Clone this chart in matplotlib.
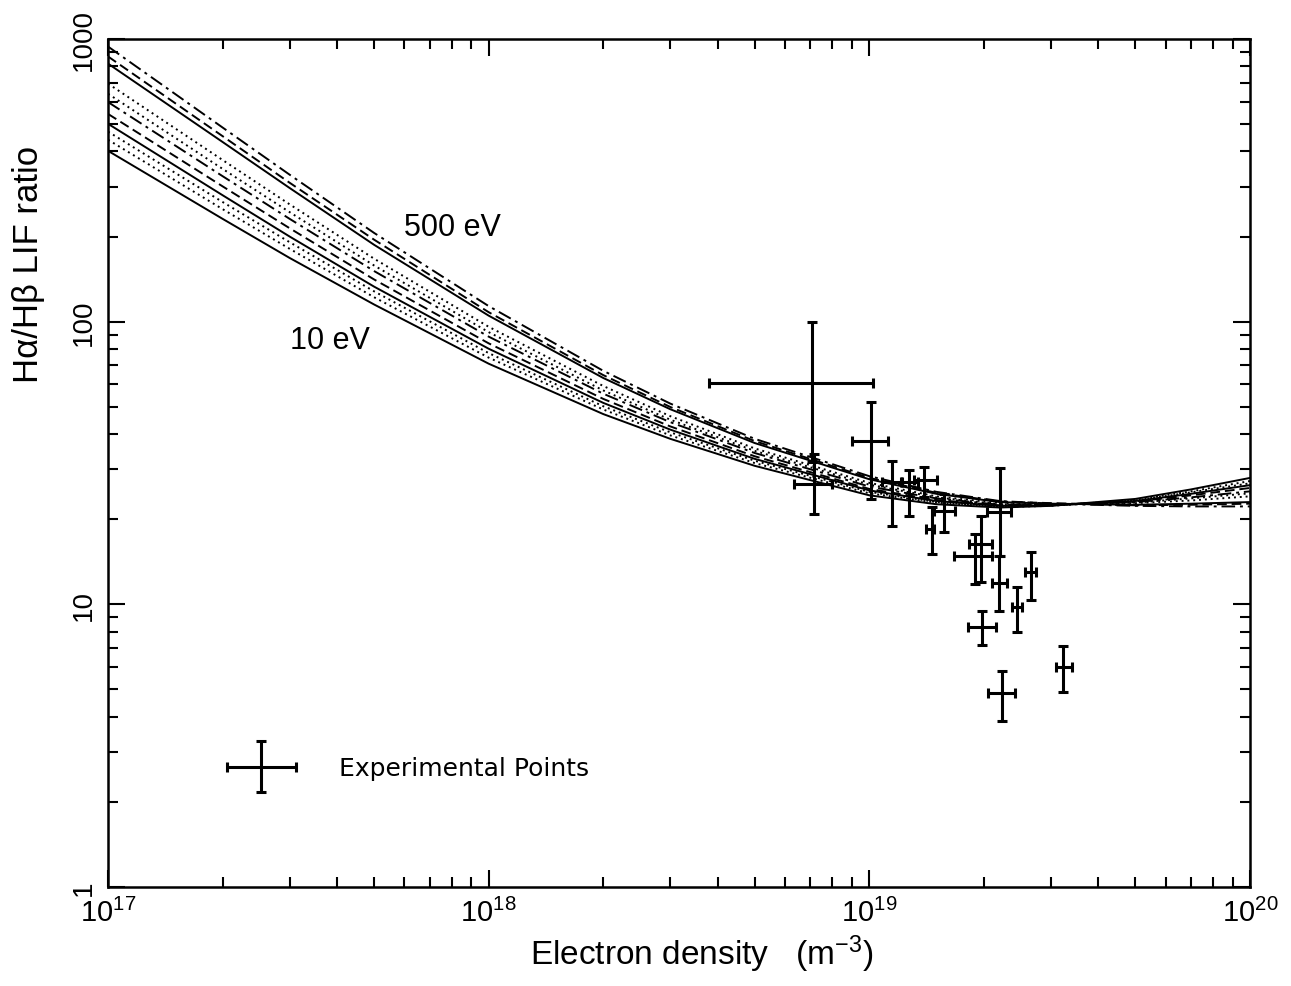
import matplotlib
matplotlib.use("Agg")
import matplotlib.pyplot as plt
from matplotlib.container import ErrorbarContainer
from matplotlib.legend_handler import HandlerErrorbar

# model curves, Halpha/Hbeta LIF ratio vs electron density
density = [1e17, 2e17, 3e17, 5e17, 1e18, 2e18, 3e18, 5e18, 1e19, 1.5e19, 2.2e19, 3e19, 5e19, 7e19, 1e20]

r500 = [940, 486, 331, 206, 113.5, 67.0, 51.3, 38.5, 28.4, 25.0, 23.2, 22.7, 22.3, 22.2, 22.2]
r400 = [867, 453, 310, 195, 108, 64.7, 49.9, 37.8, 28.0, 24.8, 23.1, 22.8, 22.4, 22.5, 22.7]
r300 = [818, 432, 297, 187, 105, 63.2, 49.0, 37.2, 27.7, 24.6, 23.0, 22.7, 22.5, 22.7, 23.0]
r200 = [695, 373, 260, 167, 95.9, 59.2, 46.3, 35.6, 26.9, 24.1, 22.8, 22.6, 22.8, 23.3, 24.1]
r150 = [640, 347, 244, 158, 91.8, 57.1, 45.0, 34.9, 26.5, 23.9, 22.6, 22.5, 22.9, 23.7, 24.7]
r100 = [598, 327, 231, 151, 88.5, 55.6, 44.1, 34.3, 26.1, 23.7, 22.5, 22.5, 23.0, 23.9, 25.1]
r70 = [543, 301, 214, 141, 83.8, 53.3, 42.6, 33.4, 25.6, 23.4, 22.4, 22.5, 23.1, 24.3, 25.8]
r50 = [501, 280, 200, 133, 80.2, 51.6, 41.5, 32.7, 25.3, 23.2, 22.3, 22.4, 23.2, 24.6, 26.4]
r30 = [470, 265, 191, 128, 77.4, 50.2, 40.6, 32.2, 25.0, 23.0, 22.2, 22.4, 23.3, 24.9, 26.8]
r20 = [440, 250, 181, 122, 74.6, 48.9, 39.6, 31.6, 24.7, 22.9, 22.1, 22.3, 23.4, 25.1, 27.3]
r10 = [402, 231, 168, 115, 71.0, 47.1, 38.5, 30.9, 24.3, 22.6, 22.0, 22.3, 23.6, 25.5, 28.0]

# experimental points
exp_n = [7.08e18, 7.17e18, 1.01e19, 1.15e19, 1.27e19, 1.39e19, 1.46e19, 1.57e19, 1.89e19,
         1.97e19, 2.21e19, 2.19e19, 2.66e19, 2.44e19, 1.98e19, 2.23e19, 3.23e19]
n_lo = [3.8e18, 6.35e18, 9.0e18, 1.08e19, 1.21e19, 1.31e19, 1.41e19, 1.48e19, 1.67e19,
        1.83e19, 2.04e19, 2.1e19, 2.57e19, 2.37e19, 1.82e19, 2.05e19, 3.1e19]
n_hi = [1.02e19, 8.0e18, 1.12e19, 1.22e19, 1.34e19, 1.51e19, 1.48e19, 1.68e19, 2.1e19,
        2.1e19, 2.36e19, 2.3e19, 2.74e19, 2.52e19, 2.15e19, 2.42e19, 3.41e19]
exp_r = [60.7, 26.7, 37.8, 27.1, 27.1, 27.5, 18.5, 21.4, 14.8, 16.4, 21.2, 11.9, 13.0, 9.8, 8.3, 4.86, 6.0]
r_lo = [31.9, 20.9, 23.6, 18.9, 20.6, 24.0, 15.1, 18.0, 11.8, 12.0, 14.8, 9.5, 10.4, 8.0, 7.2, 3.87, 4.9]
r_hi = [100, 34, 52, 32.1, 29.9, 30.6, 22.1, 24.6, 17.7, 20.6, 30.3, 14.8, 15.3, 11.5, 9.5, 5.8, 7.1]

curves = [r500, r400, r300, r200, r150, r100, r70, r50, r30, r20, r10]
dashdot = (0, (7, 2.5, 1.5, 2.5))
dashed = (0, (5, 2.5))
dotted = (0, (1, 2))
styles = [dashdot, dashed, "-", dotted, dotted, dashdot, dashed, "-", dotted, dotted, "-"]

plt.rcParams["font.family"] = ["Liberation Sans", "DejaVu Sans"]
plt.rcParams["mathtext.fontset"] = "custom"
plt.rcParams["mathtext.rm"] = "Liberation Sans"
plt.rcParams["mathtext.it"] = "Liberation Sans"

fig = plt.figure(figsize=(12.91, 9.87), dpi=100)
ax = fig.add_axes([0.0837, 0.1003, 0.8845, 0.8592])

for vals, ls in zip(curves, styles):
    ax.plot(density, vals, color="black", lw=1.4, ls=ls)

xerr = [[n - lo for n, lo in zip(exp_n, n_lo)], [hi - n for n, hi in zip(exp_n, n_hi)]]
yerr = [[r - lo for r, lo in zip(exp_r, r_lo)], [hi - r for r, hi in zip(exp_r, r_hi)]]
eb = ax.errorbar(exp_n, exp_r, xerr=xerr, yerr=yerr, fmt="none", ecolor="black",
                 elinewidth=2.2, capsize=3.5, capthick=2.2, label="Experimental Points")

ax.set_xscale("log")
ax.set_yscale("log")
ax.set_xlim(1e17, 1e20)
ax.set_ylim(1, 1000)

ax.text(6.0e17, 216, "500 eV", fontsize=22, va="center", ha="left")
ax.text(3.0e17, 86, "10 eV", fontsize=22, va="center", ha="left")

ax.set_yticks([1, 10, 100, 1000])
ax.set_yticklabels(["1", "10", "100", "1000"], rotation=90, va="center")
ax.tick_params(which="both", direction="in", top=True, right=True, width=1.5)
ax.tick_params(which="major", length=12, labelsize=20, pad=8)
ax.tick_params(which="minor", length=7)
ax.tick_params(axis="x", labelsize=21)
for s in ax.spines.values():
    s.set_linewidth(1.8)

ax.set_xlabel("Electron density   (m$^{\\mathdefault{-3}}$)", fontsize=24)
ax.xaxis.set_label_coords(0.52, -0.054)
ax.set_ylabel("H\u03b1/H\u03b2 LIF ratio", fontsize=25)
ax.yaxis.set_label_coords(-0.055, 0.735)

ax.legend(handles=[eb], labels=["Experimental Points"], loc="center left",
          bbox_to_anchor=(0.1037, 0.140), frameon=False, borderpad=0, borderaxespad=0,
          handlelength=2.8, handletextpad=1.7,
          prop={"family": "DejaVu Sans", "size": 18},
          handler_map={ErrorbarContainer: HandlerErrorbar(xerr_size=1.38, yerr_size=1.02)})

fig.savefig("out.png", dpi=100)
